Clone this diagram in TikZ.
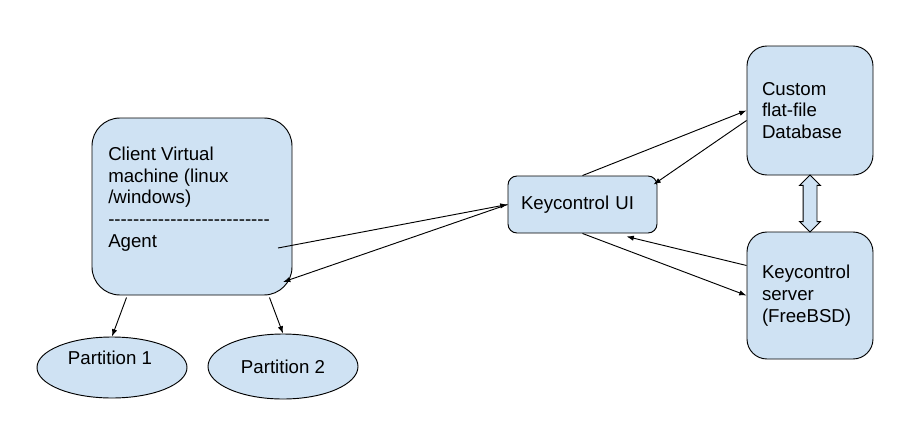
\documentclass[tikz,border=0pt]{standalone}
\usepackage{fontspec}
\setmainfont{Liberation Sans}[Ligatures=TeXOff]
\usetikzlibrary{arrows.meta,calc,shapes.geometric,shapes.arrows}
\definecolor{boxblue}{HTML}{CFE2F3}
\begin{document}
\begin{tikzpicture}[
	x=0.75pt, y=-0.75pt,
	>={Latex[length=5.5pt,width=4pt]},
	every node/.style={font=\fontsize{14pt}{16.3pt}\selectfont},
	bluebox/.style={shape=rectangle, fill=boxblue, draw=black, line width=0.7pt, align=left},
	blueoval/.style={shape=ellipse, fill=boxblue, draw=black, line width=0.7pt, minimum width=112.5pt},
	link/.style={line width=0.7pt, ->},
]
\useasboundingbox (0,0) rectangle (901,429);
\node[bluebox, rounded corners=21pt, minimum width=150pt, minimum height=132.75pt] (client) at (192,206.5) {};
\node[anchor=north west, inner sep=0pt, align=left] (clienttext) at (108,146.5) {Client Virtual\\machine (linux\\/windows)\\--------------------------\\Agent};
\node[bluebox, rounded corners=6.75pt, text width=92.25pt, inner xsep=9.75pt, minimum height=42.75pt] (ui) at (582.5,204.5) {Keycontrol UI};
\node[bluebox, rounded corners=15pt, text width=72pt, inner xsep=11.25pt, minimum height=96.75pt] (db) at (810,110.5) {Custom\\flat-file\\Database};
\node[bluebox, rounded corners=15pt, text width=72pt, inner xsep=11.25pt, minimum height=95.25pt] (server) at (810,295.5) {Keycontrol\\server\\(FreeBSD)};
\node[blueoval, minimum height=45.75pt] (p1) at (112,367.5) {};
\node (p1text) at (110,358) {Partition 1};
\node[blueoval, minimum height=48.75pt] (p2) at (283,366.5) {Partition 2};
\node[double arrow, fill=boxblue, draw=black, line width=0.7pt, rotate=90, minimum height=42.75pt, inner xsep=0pt, inner ysep=4.875pt, double arrow head extend=2.6pt] (sync) at (810,203.5) {};

\draw[link] ($(client.center)+(86,41.5)$) -- (ui.west);
\draw[link] (ui.west) -- ($(client.center)+(91,75.5)$);
\draw[link] (ui.north) -- (db.west);
\draw[link] ($(db.west)+(0,10)$) -- ($(ui.north east)+(-4,9)$);
\draw[link] ($(server.west)+(0,-30)$) -- ($(ui.south)+(44,3)$);
\draw[link] (ui.south) -- (server.west);
\draw[link] ($(client.south west)+(35,2)$) -- (p1.north);
\draw[link] ($(client.south east)+(-23,2)$) -- (p2.north);
\end{tikzpicture}
\end{document}
